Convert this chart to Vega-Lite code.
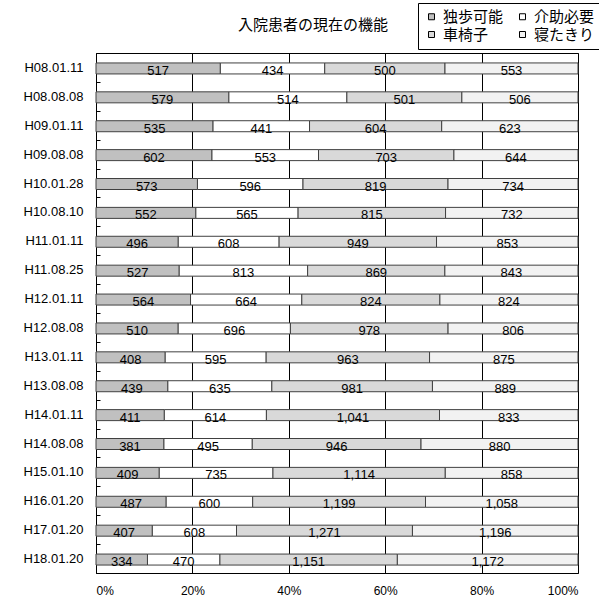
{
  "$schema": "https://vega.github.io/schema/vega-lite/v6.json",
  "width": 482,
  "height": 520,
  "autosize": {"type": "none"},
  "padding": {"left": 96, "top": 53, "right": 21, "bottom": 34},
  "background": "white",
  "title": {"text": "入院患者の現在の機能", "font": "Noto Sans CJK JP", "fontSize": 15, "fontWeight": "normal", "color": "black", "anchor": "middle", "dx": -24, "offset": -30},
  "config": {
    "view": {"stroke": "black", "strokeWidth": 1},
    "font": "Liberation Sans",
    "legend": {
      "orient": "none", "legendX": 322, "legendY": -50, "columns": 2, "direction": "horizontal", "title": null,
      "strokeColor": "black", "fillColor": "white", "padding": 6,
      "symbolType": "square", "symbolSize": 36, "symbolStrokeColor": "black", "symbolStrokeWidth": 1, "symbolOpacity": 1,
      "labelFont": "Noto Sans CJK JP", "labelFontSize": 15, "labelColor": "black", "labelOffset": 4,
      "columnPadding": 11, "rowPadding": 2
    }
  },
  "datasets": {
    "rows": [
      {"date": "H08.01.11", "cat": "独歩可能", "k": 1, "n": 517}, {"date": "H08.01.11", "cat": "介助必要", "k": 2, "n": 434}, {"date": "H08.01.11", "cat": "車椅子", "k": 3, "n": 500}, {"date": "H08.01.11", "cat": "寝たきり", "k": 4, "n": 553},
      {"date": "H08.08.08", "cat": "独歩可能", "k": 1, "n": 579}, {"date": "H08.08.08", "cat": "介助必要", "k": 2, "n": 514}, {"date": "H08.08.08", "cat": "車椅子", "k": 3, "n": 501}, {"date": "H08.08.08", "cat": "寝たきり", "k": 4, "n": 506},
      {"date": "H09.01.11", "cat": "独歩可能", "k": 1, "n": 535}, {"date": "H09.01.11", "cat": "介助必要", "k": 2, "n": 441}, {"date": "H09.01.11", "cat": "車椅子", "k": 3, "n": 604}, {"date": "H09.01.11", "cat": "寝たきり", "k": 4, "n": 623},
      {"date": "H09.08.08", "cat": "独歩可能", "k": 1, "n": 602}, {"date": "H09.08.08", "cat": "介助必要", "k": 2, "n": 553}, {"date": "H09.08.08", "cat": "車椅子", "k": 3, "n": 703}, {"date": "H09.08.08", "cat": "寝たきり", "k": 4, "n": 644},
      {"date": "H10.01.28", "cat": "独歩可能", "k": 1, "n": 573}, {"date": "H10.01.28", "cat": "介助必要", "k": 2, "n": 596}, {"date": "H10.01.28", "cat": "車椅子", "k": 3, "n": 819}, {"date": "H10.01.28", "cat": "寝たきり", "k": 4, "n": 734},
      {"date": "H10.08.10", "cat": "独歩可能", "k": 1, "n": 552}, {"date": "H10.08.10", "cat": "介助必要", "k": 2, "n": 565}, {"date": "H10.08.10", "cat": "車椅子", "k": 3, "n": 815}, {"date": "H10.08.10", "cat": "寝たきり", "k": 4, "n": 732},
      {"date": "H11.01.11", "cat": "独歩可能", "k": 1, "n": 496}, {"date": "H11.01.11", "cat": "介助必要", "k": 2, "n": 608}, {"date": "H11.01.11", "cat": "車椅子", "k": 3, "n": 949}, {"date": "H11.01.11", "cat": "寝たきり", "k": 4, "n": 853},
      {"date": "H11.08.25", "cat": "独歩可能", "k": 1, "n": 527}, {"date": "H11.08.25", "cat": "介助必要", "k": 2, "n": 813}, {"date": "H11.08.25", "cat": "車椅子", "k": 3, "n": 869}, {"date": "H11.08.25", "cat": "寝たきり", "k": 4, "n": 843},
      {"date": "H12.01.11", "cat": "独歩可能", "k": 1, "n": 564}, {"date": "H12.01.11", "cat": "介助必要", "k": 2, "n": 664}, {"date": "H12.01.11", "cat": "車椅子", "k": 3, "n": 824}, {"date": "H12.01.11", "cat": "寝たきり", "k": 4, "n": 824},
      {"date": "H12.08.08", "cat": "独歩可能", "k": 1, "n": 510}, {"date": "H12.08.08", "cat": "介助必要", "k": 2, "n": 696}, {"date": "H12.08.08", "cat": "車椅子", "k": 3, "n": 978}, {"date": "H12.08.08", "cat": "寝たきり", "k": 4, "n": 806},
      {"date": "H13.01.11", "cat": "独歩可能", "k": 1, "n": 408}, {"date": "H13.01.11", "cat": "介助必要", "k": 2, "n": 595}, {"date": "H13.01.11", "cat": "車椅子", "k": 3, "n": 963}, {"date": "H13.01.11", "cat": "寝たきり", "k": 4, "n": 875},
      {"date": "H13.08.08", "cat": "独歩可能", "k": 1, "n": 439}, {"date": "H13.08.08", "cat": "介助必要", "k": 2, "n": 635}, {"date": "H13.08.08", "cat": "車椅子", "k": 3, "n": 981}, {"date": "H13.08.08", "cat": "寝たきり", "k": 4, "n": 889},
      {"date": "H14.01.11", "cat": "独歩可能", "k": 1, "n": 411}, {"date": "H14.01.11", "cat": "介助必要", "k": 2, "n": 614}, {"date": "H14.01.11", "cat": "車椅子", "k": 3, "n": 1041}, {"date": "H14.01.11", "cat": "寝たきり", "k": 4, "n": 833},
      {"date": "H14.08.08", "cat": "独歩可能", "k": 1, "n": 381}, {"date": "H14.08.08", "cat": "介助必要", "k": 2, "n": 495}, {"date": "H14.08.08", "cat": "車椅子", "k": 3, "n": 946}, {"date": "H14.08.08", "cat": "寝たきり", "k": 4, "n": 880},
      {"date": "H15.01.10", "cat": "独歩可能", "k": 1, "n": 409}, {"date": "H15.01.10", "cat": "介助必要", "k": 2, "n": 735}, {"date": "H15.01.10", "cat": "車椅子", "k": 3, "n": 1114}, {"date": "H15.01.10", "cat": "寝たきり", "k": 4, "n": 858},
      {"date": "H16.01.20", "cat": "独歩可能", "k": 1, "n": 487}, {"date": "H16.01.20", "cat": "介助必要", "k": 2, "n": 600}, {"date": "H16.01.20", "cat": "車椅子", "k": 3, "n": 1199}, {"date": "H16.01.20", "cat": "寝たきり", "k": 4, "n": 1058},
      {"date": "H17.01.20", "cat": "独歩可能", "k": 1, "n": 407}, {"date": "H17.01.20", "cat": "介助必要", "k": 2, "n": 608}, {"date": "H17.01.20", "cat": "車椅子", "k": 3, "n": 1271}, {"date": "H17.01.20", "cat": "寝たきり", "k": 4, "n": 1196},
      {"date": "H18.01.20", "cat": "独歩可能", "k": 1, "n": 334}, {"date": "H18.01.20", "cat": "介助必要", "k": 2, "n": 470}, {"date": "H18.01.20", "cat": "車椅子", "k": 3, "n": 1151}, {"date": "H18.01.20", "cat": "寝たきり", "k": 4, "n": 1172}
    ]
  },
  "data": {"name": "rows"},
  "encoding": {
    "y": {
      "field": "date", "type": "nominal", "sort": null,
      "scale": {"paddingInner": 0, "paddingOuter": 0},
      "axis": {
        "title": null, "domain": false, "ticks": true, "tickBand": "extent", "tickSize": -4, "tickColor": "black",
        "labelFont": "Liberation Sans", "labelFontSize": 13, "labelColor": "black", "labelPadding": 17
      }
    }
  },
  "layer": [
    {
      "mark": {"type": "bar", "size": 11, "yOffset": 1, "stroke": "#404040", "strokeWidth": 1},
      "encoding": {
        "x": {
          "field": "n", "type": "quantitative", "stack": "normalize",
          "axis": {
            "title": null, "format": "%", "values": [0, 0.2, 0.4, 0.6, 0.8, 1], "grid": true, "gridColor": "black", "gridOpacity": 1,
            "domain": false, "ticks": false, "labelPadding": 12, "labelFont": "Liberation Sans", "labelFontSize": 12, "labelColor": "black"
          }
        },
        "color": {
          "field": "cat", "type": "nominal",
          "scale": {"domain": ["独歩可能", "介助必要", "車椅子", "寝たきり"], "range": ["#c0c0c0", "#ffffff", "#d9d9d9", "#f2f2f2"]}
        },
        "order": {"field": "k", "type": "quantitative"}
      }
    },
    {
      "mark": {"type": "text", "font": "Liberation Sans", "fontSize": 13, "color": "black", "baseline": "alphabetic", "dy": 7.5},
      "encoding": {
        "x": {"field": "n", "type": "quantitative", "stack": "normalize", "bandPosition": 0.5},
        "detail": {"field": "cat", "type": "nominal"},
        "order": {"field": "k", "type": "quantitative"},
        "text": {"field": "n", "type": "quantitative", "format": ","}
      }
    }
  ]
}
